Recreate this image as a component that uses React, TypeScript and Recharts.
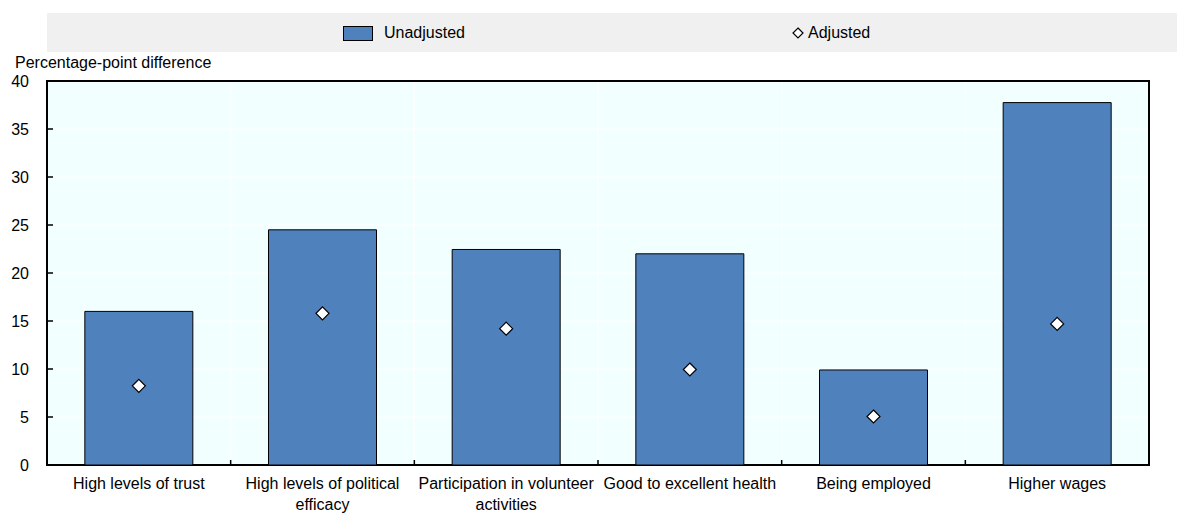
import React from "react";
import {
  ComposedChart,
  Bar,
  Line,
  XAxis,
  YAxis,
  CartesianGrid,
  ReferenceArea,
  Text,
} from "recharts";

const categories = [
  "High levels of trust",
  "High levels of political efficacy",
  "Participation in volunteer activities",
  "Good to excellent health",
  "Being employed",
  "Higher wages",
];
const unadjusted = [16.0, 24.5, 22.45, 22.0, 9.9, 37.75];
const adjusted = [8.25, 15.8, 14.2, 9.95, 5.05, 14.7];
const yTicks = [0, 5, 10, 15, 20, 25, 30, 35, 40];

const data = categories.map((c, i) => ({
  name: c,
  unadjusted: unadjusted[i],
  adjusted: adjusted[i],
}));

const FONT = '"Liberation Sans", Arial, sans-serif';
const BLUE = "#4F81BD";
const X_TICK_MARGIN = 13;
const Y_TICK_MARGIN = 18;

const Diamond = (props: any) => {
  const { cx, cy } = props;
  if (cx == null || cy == null) return null;
  const r = 6.5;
  return (
    <path
      d={`M${cx},${cy - r} L${cx + r},${cy} L${cx},${cy + r} L${cx - r},${cy} Z`}
      fill="#fff"
      stroke="#000"
      strokeWidth={1.2}
    />
  );
};

const XTick = (props: any) => {
  const { x, y, payload, index, visibleTicksCount } = props;
  const half = payload && payload.offset ? payload.offset : 0;
  const axisY = y - X_TICK_MARGIN;
  const showMark = index < (visibleTicksCount ?? categories.length) - 1 && half > 0;
  return (
    <g>
      {showMark && (
        <line
          x1={x + half}
          x2={x + half}
          y1={axisY}
          y2={axisY - 5}
          stroke="#000"
          strokeWidth={1.5}
        />
      )}
      <Text
        x={x}
        y={y}
        width={186}
        textAnchor="middle"
        verticalAnchor="start"
        lineHeight={21}
        fontSize={16}
        fontFamily={FONT}
        fill="#000"
      >
        {payload.value}
      </Text>
    </g>
  );
};

const YTick = (props: any) => {
  const { x, y, payload } = props;
  const axisX = x + Y_TICK_MARGIN;
  return (
    <g>
      <line x1={axisX} x2={axisX + 6} y1={y} y2={y} stroke="#000" strokeWidth={1.5} />
      <text
        x={x}
        y={y}
        dy={6}
        textAnchor="end"
        fontSize={16}
        fontFamily={FONT}
        fill="#000"
      >
        {payload.value}
      </text>
    </g>
  );
};

const verticalGen = (args: any) => {
  const offset = args && args.offset;
  if (!offset) return [];
  const n = categories.length;
  const step = offset.width / n;
  return categories.slice(1).map((_, i) => offset.left + step * (i + 1));
};

export default function App() {
  return (
    <div
      style={{
        position: "absolute",
        left: 0,
        top: 0,
        width: 1177,
        height: 513,
        overflow: "hidden",
        background: "#fff",
        fontFamily: FONT,
      }}
    >
      <div
        style={{
          position: "absolute",
          left: 47,
          top: 13,
          width: 1130,
          height: 39,
          background: "#F0F0F0",
        }}
      />
      <div
        style={{
          position: "absolute",
          left: 343,
          top: 26,
          width: 30,
          height: 15,
          background: BLUE,
          border: "1px solid #000",
          boxSizing: "border-box",
        }}
      />
      <div
        style={{
          position: "absolute",
          left: 384,
          top: 24,
          fontSize: 16,
          lineHeight: "18px",
          color: "#000",
        }}
      >
        Unadjusted
      </div>
      <svg
        style={{ position: "absolute", left: 792, top: 27 }}
        width={12}
        height={12}
      >
        <path d="M6,1 L11,6 L6,11 L1,6 Z" fill="#fff" stroke="#000" strokeWidth={1.2} />
      </svg>
      <div
        style={{
          position: "absolute",
          left: 808,
          top: 24,
          fontSize: 16,
          lineHeight: "18px",
          color: "#000",
        }}
      >
        Adjusted
      </div>
      <div
        style={{
          position: "absolute",
          left: 15,
          top: 54,
          fontSize: 16,
          lineHeight: "18px",
          color: "#000",
        }}
      >
        Percentage-point difference
      </div>
      <div style={{ position: "absolute", left: 0, top: 0 }}>
        <ComposedChart
          width={1177}
          height={513}
          data={data}
          margin={{ top: 81, right: 28, bottom: 0, left: 0 }}
          barCategoryGap="20.6%"
        >
          <CartesianGrid
            fill="#F2FFFF"
            stroke="#FFFFFF"
            strokeWidth={1}
            verticalCoordinatesGenerator={verticalGen}
          />
          <XAxis
            dataKey="name"
            type="category"
            height={48}
            axisLine={false}
            tickLine={false}
            tickSize={0}
            tickMargin={X_TICK_MARGIN}
            interval={0}
            tick={<XTick />}
          />
          <YAxis
            domain={[0, 40]}
            ticks={yTicks}
            width={47}
            axisLine={false}
            tickLine={false}
            tickSize={0}
            tickMargin={Y_TICK_MARGIN}
            interval={0}
            tick={<YTick />}
          />
          <Bar
            dataKey="unadjusted"
            fill={BLUE}
            stroke="#000"
            strokeWidth={1}
            isAnimationActive={false}
          />
          <Line
            dataKey="adjusted"
            stroke="none"
            dot={<Diamond />}
            activeDot={false}
            isAnimationActive={false}
          />
          <ReferenceArea
            y1={0}
            y2={40}
            fill="none"
            fillOpacity={0}
            stroke="#000"
            strokeWidth={2}
            ifOverflow="visible"
          />
        </ComposedChart>
      </div>
    </div>
  );
}
